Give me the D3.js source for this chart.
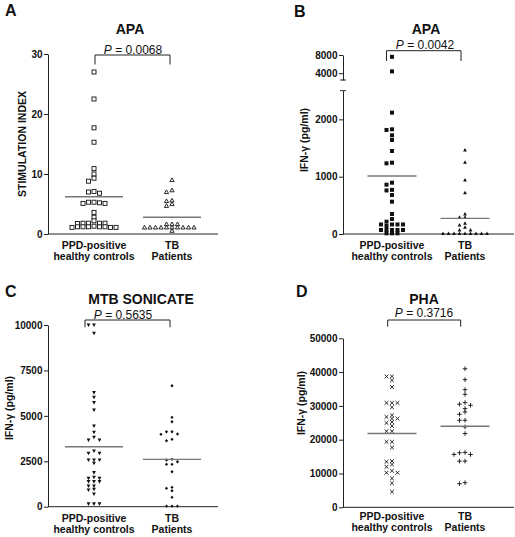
<!DOCTYPE html>
<html><head><meta charset="utf-8">
<script src="https://cdn.jsdelivr.net/npm/d3@7"></script>
<style>
body{margin:0;background:#fff}
svg{display:block}
text{font-family:"Liberation Sans",Arial,Helvetica,sans-serif;fill:#111}
</style>
</head><body>
<svg id="c" width="515" height="537"></svg>
<script>
// ---------------- DATA ----------------
const categories = ["PPD-positive healthy controls", "TB Patients"];
const catLine1 = ["PPD-positive", "TB"];
const catLine2 = ["healthy controls", "Patients"];
const panelLetters = ["A", "B", "C", "D"];
const panelTitles = ["APA", "APA", "MTB SONICATE", "PHA"];
const pValues = ["0.0068", "0.0042", "0.5635", "0.3716"];
const yLabels = ["STIMULATION INDEX", "IFN-\u03B3 (pg/ml)", "IFN-\u03B3 (pg/ml)", "IFN-\u03B3 (pg/ml)"];

// A: APA stimulation index
const siApa_controls = [27, 22.5, 17.7, 15.3, 10.9, 10.0, 9.3, 8.8, 7.1, 6.8, 7.0, 5.3, 5.1, 5.1, 5.2, 5.3,
  3.6, 2.8, 2.2, 1.8, 1.8, 1.8, 1.8, 1.75, 1.2, 1.2, 1.1, 1.1, 1.2, 1.2, 1.2, 1.1, 1.3];
const siApa_tb = [9.0, 7.3, 7.0, 5.6, 4.7, 5.0, 5.5, 1.65, 1.65, 1.65,
  1.1, 1.1, 1.1, 1.1, 1.1, 1.1, 1.1, 1.1, 1.1, 1.1, 0.55];
const siApa_means = [6.2, 2.8];
const yTicksA = [0, 10, 20, 30];

// B: APA IFN-gamma (broken axis)
const ifnApa_controls = [7600, 4400, 2117, 1826, 1815, 1722, 1640, 1448, 1233, 1244, 895, 860, 760, 770, 680, 564,
  349, 262, 215, 166, 166, 166, 166, 140, 70, 70, 70, 70, 70, 12, 12, 12];
const ifnApa_tb = [1465, 1250, 942, 721, 349, 291, 291, 186, 157, 117, 70, 70,
  10, 10, 10, 10, 10, 10, 10, 10, 10];
const ifnApa_means = [1012, 273];
const yTicksB_low = [0, 1000, 2000];
const yTicksB_high = [4000, 8000];

// C: MTB sonicate IFN-gamma
const ifnMtb_controls = [10000, 10000, 9540, 6275, 6020, 5725, 5321, 4440, 4092, 3817, 3670, 3670, 3064, 2936, 2936,
  2570, 2570, 2570, 2386, 1872, 1620, 1560, 1560, 1380, 1380, 1380, 1140, 1140, 960, 917, 697, 150, 150, 150];
const ifnMtb_tb = [6660, 4918, 4679, 4129, 4129, 4000, 3982, 3707, 3633, 2606, 2569, 2477, 2330, 2330, 1927,
  1064, 1009, 881, 514, 30, 30, 30];
const ifnMtb_means = [3303, 2606];
const yTicksC = [0, 2500, 5000, 7500, 10000];

// D: PHA IFN-gamma
const ifnPha_controls = [38700, 38700, 37550, 35580, 30900, 30900, 30900, 29590, 27230, 26740, 26250, 26250, 25260,
  24970, 24080, 22510, 22510, 19370, 19370, 17700, 13660, 13470, 12680, 11990, 10810, 10220, 10220, 8550, 7080, 4620];
const ifnPha_tb = [41000, 37760, 34800, 33430, 30970, 30500, 30180, 29200, 28210, 27520, 25750, 25750, 23790, 21820,
  16220, 16120, 15630, 15630, 13660, 13660, 7270, 6980];
const ifnPha_means = [21820, 23990];
const yTicksD = [0, 10000, 20000, 30000, 40000, 50000];

// ---------------- LAYOUT ----------------
const svg = d3.select("#c");
const INK = "#111";

function makeY(segs) {
  // segs: array of {domain, range}; returns piecewise function
  const sc = segs.map(s => d3.scaleLinear().domain(s.domain).range(s.range));
  const f = v => {
    for (const s of sc) { const d = s.domain(); if (v >= d[0] && v <= d[1]) return s(v); }
    return sc[sc.length - 1](v);
  };
  f.scales = sc;
  return f;
}

const panels = [
  { letter: [5, 16], title: [130, 34], p: [133, 53.5], br: [95, 170, 55, 64.5],
    ylab: [21.5, 144], x0: 48, x1: 218, base: 234, pad: 0.59, mw: 58, catDy: [15, 26],
    segs: [{ domain: [0, 30], range: [234, 54], ticks: yTicksA }],
    series: [siApa_controls, siApa_tb], means: siApa_means, markers: ["sqOpen", "triOpen"] },
  { letter: [294, 16.5], title: [426, 33.5], p: [425, 49], br: [386.5, 461, 50.7, 61],
    ylab: [303.5, 140], x0: 343, x1: 514, base: 234, pad: 0.671, mw: 49, catDy: [15, 26],
    segs: [{ domain: [0, 2500], range: [234, 90.7], ticks: yTicksB_low },
           { domain: [2500, 8000], range: [80, 55], ticks: yTicksB_high }],
    series: [ifnApa_controls, ifnApa_tb], means: ifnApa_means, markers: ["sqFill", "triFill"], broken: true },
  { letter: [5, 296.5], title: [141, 303.5], p: [123, 318.5], br: [85, 170, 320, 327.3],
    ylab: [8.5, 408], x0: 48, x1: 218, base: 506.7, pad: 0.59, mw: 58, catDy: [15, 26],
    segs: [{ domain: [0, 10000], range: [506.7, 325], ticks: yTicksC }],
    series: [ifnMtb_controls, ifnMtb_tb], means: ifnMtb_means, markers: ["triDown", "diamond"] },
  { letter: [296, 296.5], title: [424, 303.5], p: [424, 317], br: [387.7, 460.7, 320, 326.7],
    ylab: [300.5, 403], x0: 343, x1: 514, base: 507.3, pad: 0.671, mw: 49, catDy: [13, 23.5],
    segs: [{ domain: [0, 50000], range: [507.3, 338.3], ticks: yTicksD }],
    series: [ifnPha_controls, ifnPha_tb], means: ifnPha_means, markers: ["cross", "plus"] }
];

function dodge(values, y, th) {
  const idx = values.map((v, i) => i).sort((a, b) => values[b] - values[a]);
  const placed = [];
  const cols = new Array(values.length);
  for (const i of idx) {
    const py = y(values[i]);
    for (let k = 0; ; k++) {
      const c = k === 0 ? 0 : (k % 2 ? -Math.ceil(k / 2) : k / 2);
      if (!placed.some(p => p.col === c && Math.abs(p.py - py) < th)) {
        cols[i] = c; placed.push({ col: c, py }); break;
      }
    }
  }
  return cols;
}

function marker(g, type, x, y) {
  const sw = 0.9;
  switch (type) {
    case "sqOpen":
      g.append("rect").attr("x", x - 2).attr("y", y - 2).attr("width", 4).attr("height", 4)
        .attr("fill", "#fff").attr("stroke", INK).attr("stroke-width", sw); break;
    case "triOpen":
      g.append("path").attr("d", `M${x},${y - 2.1}L${x + 2.1},${y + 1.6}L${x - 2.1},${y + 1.6}Z`)
        .attr("fill", "#fff").attr("stroke", INK).attr("stroke-width", sw); break;
    case "sqFill":
      g.append("rect").attr("x", x - 2).attr("y", y - 2).attr("width", 4).attr("height", 4).attr("fill", INK); break;
    case "triFill":
      g.append("path").attr("d", `M${x},${y - 2}L${x + 1.9},${y + 1.5}L${x - 1.9},${y + 1.5}Z`).attr("fill", INK); break;
    case "triDown":
      g.append("path").attr("d", `M${x - 1.9},${y - 1.6}L${x + 1.9},${y - 1.6}L${x},${y + 2}Z`).attr("fill", INK); break;
    case "diamond":
      g.append("path").attr("d", `M${x},${y - 1.7}L${x + 1.6},${y}L${x},${y + 1.7}L${x - 1.6},${y}Z`).attr("fill", INK); break;
    case "cross":
      g.append("path").attr("d", `M${x - 1.9},${y - 1.9}L${x + 1.9},${y + 1.9}M${x - 1.9},${y + 1.9}L${x + 1.9},${y - 1.9}`)
        .attr("stroke", INK).attr("stroke-width", sw).attr("fill", "none"); break;
    case "plus":
      g.append("path").attr("d", `M${x - 2.3},${y}H${x + 2.3}M${x},${y - 2.3}V${y + 2.3}`)
        .attr("stroke", INK).attr("stroke-width", sw).attr("fill", "none"); break;
  }
}

panels.forEach((P, pi) => {
  const g = svg.append("g");
  const y = makeY(P.segs);
  const x = d3.scalePoint().domain(categories).range([P.x0, P.x1]).padding(P.pad);

  // panel letter
  g.append("text").attr("x", P.letter[0]).attr("y", P.letter[1])
    .attr("font-size", 16).attr("font-weight", "bold").text(panelLetters[pi]);
  // title
  g.append("text").attr("x", P.title[0]).attr("y", P.title[1]).attr("text-anchor", "middle")
    .attr("font-size", 14).attr("font-weight", "bold").text(panelTitles[pi]);
  // p-value
  const pt = g.append("text").attr("x", P.p[0]).attr("y", P.p[1]).attr("text-anchor", "middle").attr("font-size", 12);
  pt.append("tspan").attr("font-style", "italic").text("P");
  pt.append("tspan").text(" = " + pValues[pi]);
  // bracket
  const [bx0, bx1, by0, by1] = P.br;
  g.append("path").attr("d", `M${bx0},${by1}V${by0}H${bx1}V${by1}`)
    .attr("fill", "none").attr("stroke", "#222").attr("stroke-width", 1);

  // y label
  g.append("text").attr("transform", `translate(${P.ylab[0]},${P.ylab[1]}) rotate(-90)`)
    .attr("text-anchor", "middle").attr("dominant-baseline", "central")
    .attr("font-size", 10.5).attr("font-weight", "bold").text(yLabels[pi]);

  // y axes
  P.segs.forEach((s, si) => {
    const ax = d3.axisLeft(y.scales[si]).tickValues(s.ticks).tickSize(4).tickSizeOuter(0).tickPadding(1.5)
      .tickFormat(d3.format("d"));
    const ag = g.append("g").attr("transform", `translate(${P.x0},0)`).call(ax);
    ag.select(".domain").attr("stroke", "#222");
    ag.selectAll(".tick line").attr("stroke", "#222");
    ag.selectAll(".tick text").attr("font-size", 10).attr("font-weight", "bold")
      .attr("font-family", "'Liberation Sans',Arial,sans-serif").attr("fill", INK);
  });
  if (P.broken) {
    const ends = [y.scales[1].range()[0], y.scales[0].range()[1]];
    ends.forEach(e => g.append("line").attr("x1", P.x0 - 3).attr("x2", P.x0 + 3).attr("y1", e).attr("y2", e)
      .attr("stroke", "#222").attr("stroke-width", 1));
  }
  // x axis
  g.append("line").attr("x1", P.x0).attr("x2", P.x1).attr("y1", P.base).attr("y2", P.base)
    .attr("stroke", "#222").attr("stroke-width", 1);
  // category labels
  categories.forEach((c, ci) => {
    const t = g.append("text").attr("text-anchor", "middle").attr("font-size", 10.5).attr("font-weight", "bold");
    t.append("tspan").attr("x", x(c)).attr("y", P.base + P.catDy[0]).text(catLine1[ci]);
    t.append("tspan").attr("x", x(c)).attr("y", P.base + P.catDy[1]).text(catLine2[ci]);
  });

  // points
  const step = 5.5;
  P.series.forEach((vals, ci) => {
    const cols = dodge(vals, y, 3.2);
    const cx = x(categories[ci]);
    const mg = g.append("g");
    vals.forEach((v, i) => marker(mg, P.markers[ci], cx + cols[i] * step, y(v)));
    // mean line
    g.append("line").attr("x1", cx - P.mw / 2).attr("x2", cx + P.mw / 2)
      .attr("y1", y(P.means[ci])).attr("y2", y(P.means[ci]))
      .attr("stroke", "#777").attr("stroke-width", 1.4);
  });
});
</script>
</body></html>
